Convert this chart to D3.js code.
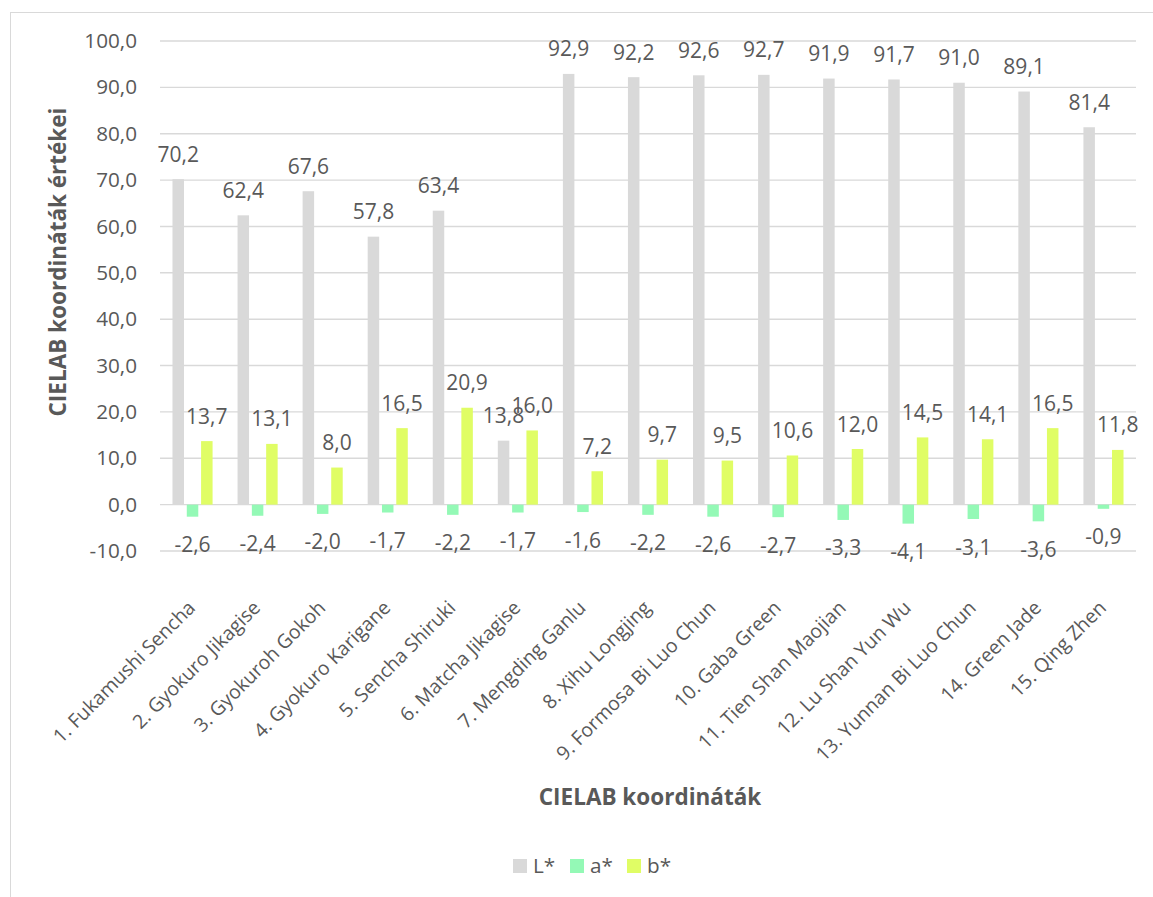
<!DOCTYPE html>
<html>
<head>
<meta charset="utf-8">
<script src="https://cdn.jsdelivr.net/npm/d3@7"></script>
<style>
  body { margin: 0; background: #fff; }
  svg text { font-family: "Open Sans", sans-serif; fill: #595959; }
</style>
</head>
<body>
<div id="chart"></div>
<script>
// tea samples
var teas = [
    "1. Fukamushi Sencha", "2. Gyokuro Jikagise", "3. Gyokuroh Gokoh",
    "4. Gyokuro Karigane", "5. Sencha Shiruki", "6. Matcha Jikagise",
    "7. Mengding Ganlu", "8. Xihu Longjing", "9. Formosa Bi Luo Chun",
    "10. Gaba Green", "11. Tien Shan Maojian", "12. Lu Shan Yun Wu",
    "13. Yunnan Bi Luo Chun", "14. Green Jade", "15. Qing Zhen"
];
var seriesNames = ["L*", "a*", "b*"];
var lValues = [70.2, 62.4, 67.6, 57.8, 63.4, 13.8, 92.9, 92.2, 92.6, 92.7, 91.9, 91.7, 91.0, 89.1, 81.4];
var aValues = [-2.6, -2.4, -2.0, -1.7, -2.2, -1.7, -1.6, -2.2, -2.6, -2.7, -3.3, -4.1, -3.1, -3.6, -0.9];
var bValues = [13.7, 13.1, 8.0, 16.5, 20.9, 16.0, 7.2, 9.7, 9.5, 10.6, 12.0, 14.5, 14.1, 16.5, 11.8];
var yTicks = [-10, 0, 10, 20, 30, 40, 50, 60, 70, 80, 90, 100];

var colors = {"L*": "#d9d9d9", "a*": "#94f9b6", "b*": "#e0fd65"};

var W = 1153, H = 897;
var margin = {top: 41, left: 160, right: 17, bottom: 346};

var rows = teas.map(function(t, i) {
    return {tea: t, "L*": lValues[i], "a*": aValues[i], "b*": bValues[i]};
});

var svg = d3.select("#chart").append("svg")
    .attr("width", W)
    .attr("height", H);

// outer chart border
svg.append("rect")
    .attr("x", 10.5).attr("y", 12.5)
    .attr("width", 1160).attr("height", 920)
    .attr("fill", "none")
    .attr("stroke", "#d9d9d9")
    .attr("stroke-width", 1);

var x0 = d3.scaleBand()
    .domain(teas)
    .range([margin.left, W - margin.right]);

var x1 = d3.scaleBand()
    .domain(seriesNames)
    .range([0, x0.bandwidth()])
    .paddingInner(0.196)
    .paddingOuter(0.873);

var y = d3.scaleLinear()
    .domain([-10, 100])
    .range([H - margin.bottom, margin.top]);

var fmt = function(v) { return d3.format(".1f")(v).replace(".", ",").replace("−", "-"); };

// gridlines
svg.append("g")
    .selectAll("line")
    .data(yTicks)
    .enter().append("line")
    .attr("x1", margin.left)
    .attr("x2", W - margin.right)
    .attr("y1", function(d) { return y(d); })
    .attr("y2", function(d) { return y(d); })
    .attr("stroke", "#d9d9d9")
    .attr("stroke-width", 1.4);

// y axis labels
var yAxis = svg.append("g")
    .attr("transform", "translate(" + margin.left + ",0)")
    .call(d3.axisLeft(y).tickValues(yTicks).tickFormat(fmt).tickSize(0).tickPadding(23));
yAxis.select(".domain").remove();
yAxis.selectAll("text")
    .style("font-size", "20.7px")
    .attr("fill", "#595959");

// bars
var groups = svg.selectAll(".tea")
    .data(rows)
    .enter().append("g")
    .attr("class", "tea")
    .attr("transform", function(d) { return "translate(" + x0(d.tea) + ",0)"; });

groups.selectAll("rect")
    .data(function(d) { return seriesNames.map(function(k) { return {key: k, value: d[k]}; }); })
    .enter().append("rect")
    .attr("x", function(d) { return x1(d.key); })
    .attr("width", x1.bandwidth())
    .attr("y", function(d) { return y(Math.max(0, d.value)); })
    .attr("height", function(d) { return Math.abs(y(d.value) - y(0)); })
    .attr("fill", function(d) { return colors[d.key]; });

// data labels
groups.selectAll(".lbl")
    .data(function(d) { return seriesNames.map(function(k) { return {key: k, value: d[k]}; }); })
    .enter().append("text")
    .attr("class", "lbl")
    .attr("x", function(d) { return x1(d.key) + x1.bandwidth() / 2; })
    .attr("y", function(d) { return d.value >= 0 ? y(d.value) - 25 : y(d.value) + 28; })
    .attr("dy", "0.36em")
    .attr("text-anchor", "middle")
    .style("font-size", "21px")
    .text(function(d) { return fmt(d.value); });

// category labels
svg.append("g")
    .selectAll("text")
    .data(teas)
    .enter().append("text")
    .attr("transform", function(d) {
        return "translate(" + (x0(d) + x0.bandwidth() / 2 + 4) + ",609) rotate(-45)";
    })
    .attr("text-anchor", "end")
    .style("font-size", "19.5px")
    .text(function(d) { return d; });

// axis titles
svg.append("text")
    .attr("x", 650)
    .attr("y", 797)
    .attr("dy", "0.35em")
    .attr("text-anchor", "middle")
    .style("font-size", "22.5px")
    .style("font-weight", "bold")
    .text("CIELAB koordináták");

svg.append("text")
    .attr("transform", "translate(58,262) rotate(-90)")
    .attr("dy", "0.35em")
    .attr("text-anchor", "middle")
    .style("font-size", "22.5px")
    .style("font-weight", "bold")
    .text("CIELAB koordináták értékei");

// legend
var legend = svg.append("g")
    .selectAll("g")
    .data(seriesNames)
    .enter().append("g")
    .attr("transform", function(d, i) { return "translate(" + (513 + i * 57) + ",859)"; });

legend.append("rect")
    .attr("width", 14)
    .attr("height", 14)
    .attr("fill", function(d) { return colors[d]; });

legend.append("text")
    .attr("x", 20)
    .attr("y", 7)
    .attr("dy", "0.36em")
    .style("font-size", "20.7px")
    .text(function(d) { return d; });
</script>
</body>
</html>
